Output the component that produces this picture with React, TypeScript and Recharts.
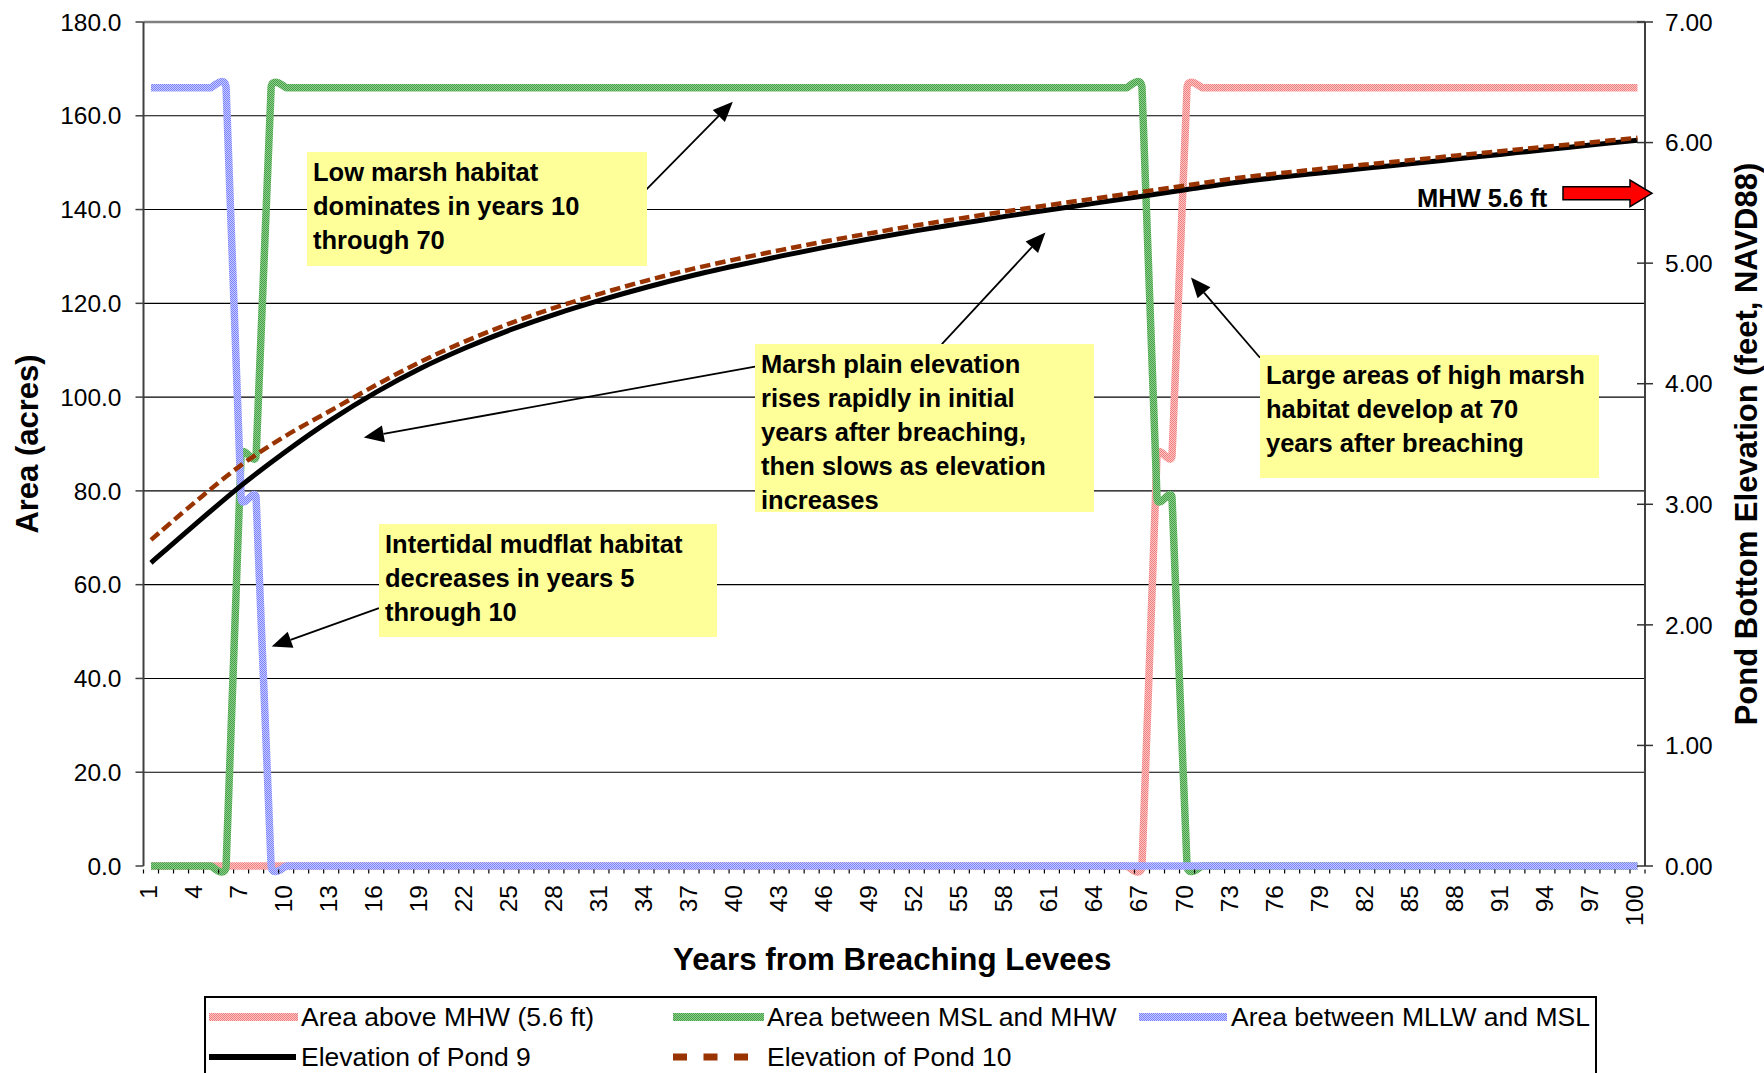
import React from 'react';
import { LineChart, Line, XAxis, YAxis, CartesianGrid, ReferenceLine, ReferenceDot } from 'recharts';

const FONT = '"Liberation Sans", Arial, Helvetica, sans-serif';

// ---------- categories ----------
const YEARS: number[] = Array.from({ length: 100 }, (_, i) => i + 1);

// ---------- area series (acres, left axis) ----------
const AREA_ABOVE_MHW = [
  0, 0, 0, 0, 0, 0, 0, 0, 0, 0,
  0, 0, 0, 0, 0, 0, 0, 0, 0, 0,
  0, 0, 0, 0, 0, 0, 0, 0, 0, 0,
  0, 0, 0, 0, 0, 0, 0, 0, 0, 0,
  0, 0, 0, 0, 0, 0, 0, 0, 0, 0,
  0, 0, 0, 0, 0, 0, 0, 0, 0, 0,
  0, 0, 0, 0, 0, 0, 0, 87.5, 87.5, 166,
  166, 166, 166, 166, 166, 166, 166, 166, 166, 166,
  166, 166, 166, 166, 166, 166, 166, 166, 166, 166,
  166, 166, 166, 166, 166, 166, 166, 166, 166, 166,
];
const AREA_MSL_MHW = [
  0, 0, 0, 0, 0, 0, 87.5, 87.5, 166, 166,
  166, 166, 166, 166, 166, 166, 166, 166, 166, 166,
  166, 166, 166, 166, 166, 166, 166, 166, 166, 166,
  166, 166, 166, 166, 166, 166, 166, 166, 166, 166,
  166, 166, 166, 166, 166, 166, 166, 166, 166, 166,
  166, 166, 166, 166, 166, 166, 166, 166, 166, 166,
  166, 166, 166, 166, 166, 166, 166, 78.5, 78.5, 0,
  0, 0, 0, 0, 0, 0, 0, 0, 0, 0,
  0, 0, 0, 0, 0, 0, 0, 0, 0, 0,
  0, 0, 0, 0, 0, 0, 0, 0, 0, 0,
];
const AREA_MLLW_MSL = [
  166, 166, 166, 166, 166, 166, 78.5, 78.5, 0, 0,
  0, 0, 0, 0, 0, 0, 0, 0, 0, 0,
  0, 0, 0, 0, 0, 0, 0, 0, 0, 0,
  0, 0, 0, 0, 0, 0, 0, 0, 0, 0,
  0, 0, 0, 0, 0, 0, 0, 0, 0, 0,
  0, 0, 0, 0, 0, 0, 0, 0, 0, 0,
  0, 0, 0, 0, 0, 0, 0, 0, 0, 0,
  0, 0, 0, 0, 0, 0, 0, 0, 0, 0,
  0, 0, 0, 0, 0, 0, 0, 0, 0, 0,
  0, 0, 0, 0, 0, 0, 0, 0, 0, 0,
];

// ---------- elevation series (feet NAVD88, right axis), read at these years ----------
const ELEV_YEARS = [1, 4, 7, 10, 13, 16, 19, 22, 25, 28, 31, 34, 37, 40, 43, 46, 49, 52, 55, 58, 61, 64, 67, 70, 73, 76, 79, 82, 85, 88, 91, 94, 97, 100];
const ELEV_POND_9 = [2.515, 2.84, 3.155, 3.44, 3.7, 3.93, 4.13, 4.3, 4.45, 4.58, 4.695, 4.8, 4.895, 4.98, 5.06, 5.135, 5.205, 5.27, 5.33, 5.39, 5.445, 5.5, 5.555, 5.61, 5.665, 5.71, 5.749, 5.788, 5.826, 5.865, 5.904, 5.943, 5.981, 6.02];
const ELEV_POND_10 = [2.705, 3.025, 3.325, 3.57, 3.78, 3.99, 4.185, 4.355, 4.505, 4.635, 4.75, 4.855, 4.95, 5.033, 5.11, 5.183, 5.25, 5.314, 5.373, 5.431, 5.485, 5.539, 5.592, 5.646, 5.7, 5.744, 5.782, 5.819, 5.856, 5.893, 5.93, 5.967, 6.003, 6.04];

// ---------- axes ----------
const LEFT_TICKS = [0, 20, 40, 60, 80, 100, 120, 140, 160, 180];
const GRID_VALUES = [20, 40, 60, 80, 100, 120, 140, 160];
const RIGHT_TICKS = [0, 1, 2, 3, 4, 5, 6, 7];
const MHW_LEVEL = 5.6;

// ---------- annotations ----------
const CALLOUTS = [
  { lines: ['Low marsh habitat', 'dominates in years 10', 'through 70'], box: [307, 152, 340, 114], from: [34.0, 144.3], to: [39.75, 163.0] },
  { lines: ['Marsh plain elevation', 'rises rapidly in initial', 'years after breaching,', 'then slows as elevation', 'increases'], box: [755, 344, 339, 168], from: [53.67, 111.3], to: [60.57, 135.1] },
  { lines: [], box: null, from: [41.23, 106.5], to: [15.17, 91.4] },
  { lines: ['Large areas of high marsh', 'habitat develop at 70', 'years after breaching'], box: [1260, 355, 339, 123], from: [74.86, 108.4], to: [70.26, 125.5] },
  { lines: ['Intertidal mudflat habitat', 'decreases in years 5', 'through 10'], box: [379, 524, 338, 113], from: [16.18, 55.0], to: [9.04, 46.8] },
];

const data = YEARS.map((year, i) => {
  const k = ELEV_YEARS.indexOf(year);
  return {
    year,
    above: AREA_ABOVE_MHW[i],
    mslMhw: AREA_MSL_MHW[i],
    mllwMsl: AREA_MLLW_MSL[i],
    pond9: k >= 0 ? ELEV_POND_9[k] : null,
    pond10: k >= 0 ? ELEV_POND_10[k] : null,
  };
});

// ---------- layout ----------
const W = 1764;
const H = 1073;
const LEFT_W = 143.5;
const RIGHT_W = 119;
const TOP = 22;
const XAXIS_H = 207;
const PLOT_W = W - LEFT_W - RIGHT_W;
const HALF_BAND = PLOT_W / 200;
const R_TICK_MARGIN = 20;

// Excel-like smoothed line (cardinal/Catmull-Rom bezier with tension factor k)
function makeSmooth(k: number) {
  return (context: any) => {
    let pts: number[][] = [];
    return {
      areaStart() {},
      areaEnd() {},
      lineStart() {
        pts = [];
      },
      point(x: number, y: number) {
        pts.push([+x, +y]);
      },
      lineEnd() {
        const n = pts.length;
        if (!n) return;
        context.moveTo(pts[0][0], pts[0][1]);
        if (n === 1) {
          context.lineTo(pts[0][0], pts[0][1]);
          return;
        }
        for (let i = 0; i < n - 1; i++) {
          const p0 = pts[i - 1] || pts[i];
          const p1 = pts[i];
          const p2 = pts[i + 1];
          const p3 = pts[i + 2] || p2;
          context.bezierCurveTo(
            p1[0] + ((p2[0] - p0[0]) / 6) * k,
            p1[1] + ((p2[1] - p0[1]) / 6) * k,
            p2[0] - ((p3[0] - p1[0]) / 6) * k,
            p2[1] - ((p3[1] - p1[1]) / 6) * k,
            p2[0],
            p2[1]
          );
        }
      },
    };
  };
}
const areaCurve = makeSmooth(0.2);
const elevCurve = makeSmooth(1);

const XTick = (props: any) => {
  const { x, y, payload } = props;
  const v = payload.value;
  const ly = y + 19;
  const lx = x - 3;
  return (
    <g>
      <line x1={x - HALF_BAND} x2={x - HALF_BAND} y1={y + 3.5} y2={y + 7.5} stroke="#000" strokeWidth={1.2} />
      {v === YEARS[YEARS.length - 1] && (
        <line x1={x + HALF_BAND} x2={x + HALF_BAND} y1={y + 3.5} y2={y + 7.5} stroke="#000" strokeWidth={1.2} />
      )}
      {(v - 1) % 3 === 0 && (
        <text
          x={lx}
          y={ly}
          transform={`rotate(-90, ${lx}, ${ly})`}
          textAnchor="end"
          dominantBaseline="central"
          fontFamily={FONT}
          fontSize={24.5}
          fill="#000"
        >
          {v}
        </text>
      )}
    </g>
  );
};

const RightTick = (props: any) => {
  const { x, y, payload } = props;
  const ax = x - R_TICK_MARGIN;
  return (
    <g>
      <line x1={ax - 8} x2={ax + 8} y1={y} y2={y} stroke="#333" strokeWidth={1.5} />
      <text x={x} y={y} dy="0.355em" textAnchor="start" fontFamily={FONT} fontSize={24.5} fill="#000">
        {Number(payload.value).toFixed(2)}
      </text>
    </g>
  );
};

const titleStyle = { fontFamily: FONT, fontWeight: 'bold' as const, fontSize: 31, fill: '#000' };

const LeftTitle = (props: any) => {
  const vb = props.viewBox || { x: 0, y: TOP, width: LEFT_W, height: 844 };
  const cx = vb.x + 27;
  const cy = vb.y + vb.height / 2;
  return (
    <text x={cx} y={cy} transform={`rotate(-90, ${cx}, ${cy})`} textAnchor="middle" dominantBaseline="central" {...titleStyle}>
      Area (acres)
    </text>
  );
};

const RightTitle = (props: any) => {
  const vb = props.viewBox || { x: W - RIGHT_W, y: TOP, width: RIGHT_W, height: 844 };
  const cx = vb.x + 101;
  const cy = vb.y + vb.height / 2;
  return (
    <text x={cx} y={cy} transform={`rotate(-90, ${cx}, ${cy})`} textAnchor="middle" dominantBaseline="central" {...titleStyle}>
      Pond Bottom Elevation (feet, NAVD88)
    </text>
  );
};

const XTitle = (props: any) => {
  const vb = props.viewBox || { x: LEFT_W, y: H - XAXIS_H, width: PLOT_W, height: XAXIS_H };
  return (
    <text x={vb.x + vb.width / 2 - 2} y={vb.y + 104} textAnchor="middle" {...titleStyle} fontSize={31.3}>
      Years from Breaching Levees
    </text>
  );
};

const arrowShape = (p: any) => {
  const { x1, y1, x2, y2 } = p;
  const dx = x2 - x1;
  const dy = y2 - y1;
  const len = Math.hypot(dx, dy) || 1;
  const ux = dx / len;
  const uy = dy / len;
  const L = 20;
  const hw = 8.5;
  const bx = x2 - ux * L;
  const by = y2 - uy * L;
  const px = -uy;
  const py = ux;
  return (
    <g>
      <line x1={x1} y1={y1} x2={bx} y2={by} stroke="#000" strokeWidth={1.8} />
      <polygon points={`${x2},${y2} ${bx + px * hw},${by + py * hw} ${bx - px * hw},${by - py * hw}`} fill="#000" />
    </g>
  );
};

const mhwShape = (p: any) => {
  const { cx, cy } = p;
  const c = cy + 2.5;
  const pts = [
    [cx - 82, c - 6.5],
    [cx - 15, c - 6.5],
    [cx - 15, c - 13.3],
    [cx + 7, c],
    [cx - 15, c + 13.3],
    [cx - 15, c + 6.5],
    [cx - 82, c + 6.5],
  ];
  return (
    <g>
      <text x={cx - 228} y={cy + 16.5} fontFamily={FONT} fontWeight="bold" fontSize={25.5} fill="#000">
        MHW 5.6 ft
      </text>
      <polygon points={pts.map((q) => q.join(',')).join(' ')} fill="#ff0000" stroke="#000" strokeWidth={1.5} />
    </g>
  );
};

const Patterns = ({ prefix }: { prefix: string }) => (
  <defs>
    <pattern id={`${prefix}Pink`} patternUnits="userSpaceOnUse" width={2} height={2}>
      <rect width={2} height={2} fill="#ffc4c4" />
      <rect width={1} height={1} fill="#f08080" />
      <rect x={1} y={1} width={1} height={1} fill="#f08080" />
    </pattern>
    <pattern id={`${prefix}Green`} patternUnits="userSpaceOnUse" width={2} height={2}>
      <rect width={2} height={2} fill="#8ccf8c" />
      <rect width={1} height={1} fill="#479f47" />
      <rect x={1} y={1} width={1} height={1} fill="#479f47" />
    </pattern>
    <pattern id={`${prefix}Blue`} patternUnits="userSpaceOnUse" width={2} height={2}>
      <rect width={2} height={2} fill="#c8ccff" />
      <rect width={1} height={1} fill="#7880ff" />
      <rect x={1} y={1} width={1} height={1} fill="#7880ff" />
    </pattern>
  </defs>
);

const LEGEND_ITEMS = [
  { label: 'Area above MHW (5.6 ft)', kind: 'pink', x: 209, sw: 89, tx: 301, row: 0 },
  { label: 'Area between MSL and MHW', kind: 'green', x: 673, sw: 91, tx: 767, row: 0 },
  { label: 'Area between MLLW and MSL', kind: 'blue', x: 1139, sw: 88, tx: 1231, row: 0 },
  { label: 'Elevation of Pond 9', kind: 'black', x: 209, sw: 87, tx: 301, row: 1 },
  { label: 'Elevation of Pond 10', kind: 'brown', x: 673, sw: 75, tx: 767, row: 1 },
];

const LEG_LEFT = 204;
const LEG_TOP = 996;

const Swatch = ({ kind, w }: { kind: string; w: number }) => {
  let el: React.ReactNode = null;
  if (kind === 'pink') el = <rect x={0} y={2} width={w} height={8} fill="url(#lgPink)" />;
  if (kind === 'green') el = <rect x={0} y={2} width={w} height={8} fill="url(#lgGreen)" />;
  if (kind === 'blue') el = <rect x={0} y={2} width={w} height={8} fill="url(#lgBlue)" />;
  if (kind === 'black') el = <line x1={0} x2={w} y1={6} y2={6} stroke="#000" strokeWidth={6} />;
  if (kind === 'brown') el = <line x1={0} x2={w} y1={6} y2={6} stroke="#993300" strokeWidth={7} strokeDasharray="14 16.5" />;
  return (
    <svg width={w} height={12} style={{ display: 'block' }}>
      <Patterns prefix="lg" />
      {el}
    </svg>
  );
};

export default function App() {
  return (
    <div style={{ position: 'absolute', left: 0, top: 0, width: W, height: H, overflow: 'hidden', background: '#fff', fontFamily: FONT }}>
      <LineChart width={W} height={H} data={data} margin={{ top: TOP, right: 0, bottom: 0, left: 0 }}>
        <Patterns prefix="pat" />
        <CartesianGrid
          yAxisId="left"
          horizontal
          vertical={false}
          horizontalValues={GRID_VALUES}
          stroke="#000"
          strokeWidth={1.1}
        />
        <XAxis
          dataKey="year"
          type="number"
          domain={[0.5, 100.5]}
          ticks={YEARS}
          interval={0}
          height={XAXIS_H}
          tickLine={false}
          tickSize={0}
          tickMargin={0}
          tick={XTick}
          axisLine={false}
          label={XTitle}
        />
        <YAxis
          yAxisId="left"
          domain={[0, 180]}
          ticks={LEFT_TICKS}
          interval={0}
          width={LEFT_W}
          tickSize={8}
          tickMargin={14}
          tickFormatter={(v: number) => v.toFixed(1)}
          tick={{ fill: '#000', fontSize: 24.5, fontFamily: FONT }}
          axisLine={{ stroke: '#404040', strokeWidth: 2 }}
          tickLine={{ stroke: '#404040', strokeWidth: 1.5 }}
          label={LeftTitle}
        />
        <YAxis
          yAxisId="right"
          orientation="right"
          domain={[0, 7]}
          ticks={RIGHT_TICKS}
          interval={0}
          width={RIGHT_W}
          tickLine={false}
          tickSize={0}
          tickMargin={R_TICK_MARGIN}
          tick={RightTick}
          axisLine={{ stroke: '#404040', strokeWidth: 2 }}
          label={RightTitle}
        />
        <ReferenceLine yAxisId="left" y={180} stroke="#808080" strokeWidth={2.5} />
        <Line yAxisId="left" dataKey="above" name="Area above MHW (5.6 ft)" type={areaCurve as any} stroke="url(#patPink)" strokeWidth={7.5} strokeLinejoin="round" dot={false} activeDot={false} isAnimationActive={false} />
        <Line yAxisId="left" dataKey="mslMhw" name="Area between MSL and MHW" type={areaCurve as any} stroke="url(#patGreen)" strokeWidth={7.5} strokeLinejoin="round" dot={false} activeDot={false} isAnimationActive={false} />
        <Line yAxisId="left" dataKey="mllwMsl" name="Area between MLLW and MSL" type={areaCurve as any} stroke="url(#patBlue)" strokeWidth={7.5} strokeLinejoin="round" dot={false} activeDot={false} isAnimationActive={false} />
        <Line yAxisId="right" dataKey="pond9" name="Elevation of Pond 9" type={elevCurve as any} connectNulls stroke="#000" strokeWidth={5} dot={false} activeDot={false} isAnimationActive={false} />
        <Line yAxisId="right" dataKey="pond10" name="Elevation of Pond 10" type={elevCurve as any} connectNulls stroke="#993300" strokeWidth={4.5} strokeDasharray="10.5 5" dot={false} activeDot={false} isAnimationActive={false} />
        {CALLOUTS.map((c, i) => (
          <ReferenceLine
            key={`arrow-${i}`}
            yAxisId="left"
            ifOverflow="visible"
            segment={[{ x: c.from[0], y: c.from[1] }, { x: c.to[0], y: c.to[1] }]}
            shape={arrowShape}
          />
        ))}
        <ReferenceDot yAxisId="right" x={100.5} y={MHW_LEVEL} ifOverflow="visible" shape={mhwShape} />
      </LineChart>

      {CALLOUTS.filter((c) => c.box).map((c, i) => {
        const [l, t, w, h] = c.box as number[];
        return (
          <div
            key={`box-${i}`}
            style={{
              position: 'absolute',
              left: l,
              top: t,
              width: w,
              height: h,
              boxSizing: 'border-box',
              background: '#ffff99',
              padding: '3px 0 0 6px',
              fontFamily: FONT,
              fontWeight: 'bold',
              fontSize: 25.5,
              lineHeight: '34px',
              color: '#000',
              whiteSpace: 'nowrap',
            }}
          >
            {c.lines.map((ln, j) => (
              <div key={j}>{ln}</div>
            ))}
          </div>
        );
      })}

      <div
        style={{
          position: 'absolute',
          left: LEG_LEFT,
          top: LEG_TOP,
          width: 1393,
          height: 110,
          boxSizing: 'border-box',
          border: '2px solid #000',
          background: '#fff',
        }}
      />
      {LEGEND_ITEMS.map((it, i) => {
        const cy = LEG_TOP + 20.7 + it.row * 40;
        return (
          <React.Fragment key={`leg-${i}`}>
            <div style={{ position: 'absolute', left: it.x, top: cy - 6 }}>
              <Swatch kind={it.kind} w={it.sw} />
            </div>
            <div
              style={{
                position: 'absolute',
                left: it.tx,
                top: cy - 17,
                height: 34,
                lineHeight: '34px',
                fontFamily: FONT,
                fontSize: 26.5,
                color: '#000',
                whiteSpace: 'nowrap',
              }}
            >
              {it.label}
            </div>
          </React.Fragment>
        );
      })}
    </div>
  );
}
